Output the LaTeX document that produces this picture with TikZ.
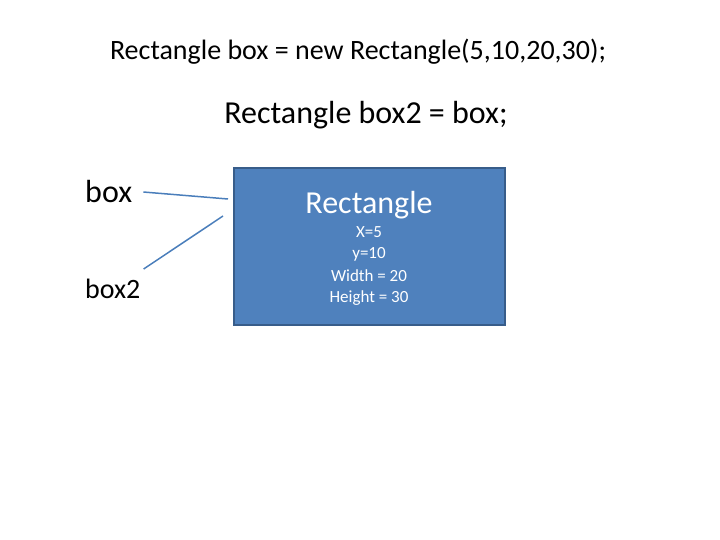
\documentclass[tikz,border=0pt]{standalone}
\usepackage{fontspec}
\setmainfont{Carlito}
\usetikzlibrary{positioning}
\definecolor{boxfill}{HTML}{4F81BD}
\definecolor{boxline}{HTML}{385D8A}
\definecolor{linkcol}{HTML}{4A7EBB}

\begin{document}
\begin{tikzpicture}[x=1pt, y=-1pt,
  codeline/.style={inner sep=0pt},
  refname/.style={inner sep=0pt, anchor=west},
  objbox/.style={draw=boxline, line width=2.2pt, fill=boxfill},
  link/.style={draw=linkcol, line width=1.5pt}]

\useasboundingbox (0,0) rectangle (720,540);

% code lines
\node[codeline, font=\fontsize{28}{32}\selectfont] (code1) at (358,52) {Rectangle box = new Rectangle(5,10,20,30);};
\node[codeline, font=\fontsize{32}{36}\selectfont] (code2) at (366,115) {Rectangle box2 = box;};

% object
\draw[objbox] (234,168) rectangle (505,325);
\node[inner sep=0pt, text=white, font=\fontsize{32}{36}\selectfont] (title) at (369,205) {Rectangle};
\foreach \y/\t/\n in {232/{X=5}/fx, 254/{y=10}/fy, 276/{Width = 20}/fw, 298/{Height = 30}/fh}
{
  \node[inner sep=0pt, text=white, font=\fontsize{17}{20}\selectfont] (\n) at (369,\y) {\t};
}

% references
\node[refname, font=\fontsize{32}{36}\selectfont] (box) at (85,192) {box};
\node[refname, font=\fontsize{28}{32}\selectfont] (box2) at (85,289) {box2};
\coordinate (in1) at (228,199);
\coordinate (in2) at (223,216);
\draw[link] (box.east) ++(11,0) -- (in1);
\draw[link] (box2.east) ++(3,-20) -- (in2);

\end{tikzpicture}
\end{document}
